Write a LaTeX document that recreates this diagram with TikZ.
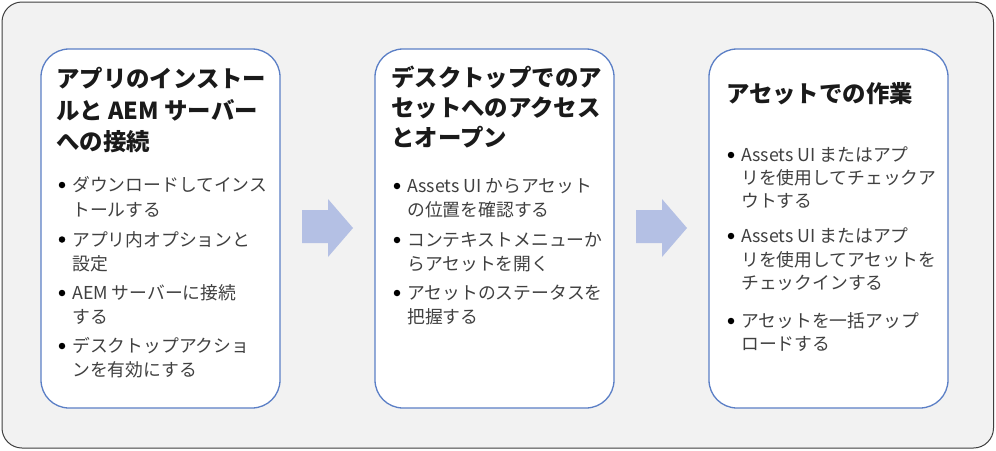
\documentclass[tikz,border=0pt]{standalone}
\usepackage{fontspec}
\setmainfont{Noto Sans CJK JP}
\definecolor{outerfill}{HTML}{F2F2F2}
\definecolor{outerline}{HTML}{3F3F3F}
\definecolor{boxline}{HTML}{5B7FC6}
\definecolor{arrowfill}{HTML}{B4C0E4}
\definecolor{titlecol}{HTML}{1A1A1A}
\definecolor{bodycol}{HTML}{404040}
\tikzset{
  x=1pt, y=-1pt,
  outerbox/.style={fill=outerfill, draw=outerline, line width=1pt, rounded corners=20pt},
  card/.style={fill=white, draw=boxline, line width=1.3pt, rounded corners=28pt},
  flowarrow/.style={fill=arrowfill, draw=none},
  ttl/.style={anchor=west, inner sep=0pt, text height=0.88em, text depth=0.12em,
    font=\fontsize{23.4}{30}\selectfont\bfseries, text=titlecol, yshift=-1pt},
  bdy/.style={anchor=west, inner sep=0pt, text height=0.88em, text depth=0.12em,
    font=\fontsize{17.8}{24}\selectfont, text=bodycol, yshift=-1pt},
  dot/.style={circle, fill=black, inner sep=0pt, minimum size=6.5pt, yshift=1.5pt},
}
\begin{document}
\begin{tikzpicture}
\useasboundingbox (0,0) rectangle (996,450);
\draw[outerbox] (2,2) rectangle (993.5,448);
% cards
\draw[card] (41,49) rectangle (280,408);
\draw[card] (375,49) rectangle (614,408);
\draw[card] (709,49) rectangle (948,408);
% arrows
\fill[flowarrow] (302,210) -- (328,210) -- (328,199) -- (353,228) -- (328,257) -- (328,243) -- (302,243) -- cycle;
\fill[flowarrow] (636,210) -- (662,210) -- (662,199) -- (687,228) -- (662,257) -- (662,243) -- (636,243) -- cycle;

% ---- Box 1
\node[ttl] (a-t1) at (56,83) {アプリのインストー};
\node[ttl] (a-t2) at (56,114.5) {ルと AEM サーバー};
\node[ttl] (a-t3) at (56,146) {への接続};
\node[dot] (a-d1) at (62,186.5) {};
\node[bdy] (a-l1) at (72,187) {ダウンロードしてインス};
\node[bdy] (a-l2) at (72,211.5) {トールする};
\node[dot] (a-d2) at (62,241) {};
\node[bdy] (a-l3) at (72,241.5) {アプリ内オプションと};
\node[bdy] (a-l4) at (72,266) {設定};
\node[dot] (a-d3) at (62,294.5) {};
\node[bdy] (a-l5) at (72,295) {AEM サーバーに接続};
\node[bdy] (a-l6) at (72,319) {する};
\node[dot] (a-d4) at (62,347.5) {};
\node[bdy] (a-l7) at (72,348) {デスクトップアクショ};
\node[bdy] (a-l8) at (72,372) {ンを有効にする};

% ---- Box 2
\node[ttl] (b-t1) at (391,82) {デスクトップでのア};
\node[ttl] (b-t2) at (391,112) {セットへのアクセス};
\node[ttl] (b-t3) at (391,142) {とオープン};
\node[dot] (b-d1) at (397,187.5) {};
\node[bdy] (b-l1) at (407,188) {Assets UI からアセット};
\node[bdy] (b-l2) at (407,212) {の位置を確認する};
\node[dot] (b-d2) at (397,241.5) {};
\node[bdy] (b-l3) at (407,242) {コンテキストメニューか};
\node[bdy] (b-l4) at (407,265.5) {らアセットを開く};
\node[dot] (b-d3) at (397,294.5) {};
\node[bdy] (b-l5) at (407,295) {アセットのステータスを};
\node[bdy] (b-l6) at (407,318.5) {把握する};

% ---- Box 3
\node[ttl] (c-t1) at (726,98) {アセットでの作業};
\node[dot] (c-d1) at (731,156.5) {};
\node[bdy] (c-l1) at (741,157) {Assets UI またはアプ};
\node[bdy] (c-l2) at (741,180) {リを使用してチェックア};
\node[bdy] (c-l3) at (741,203) {ウトする};
\node[dot] (c-d2) at (731,237.5) {};
\node[bdy] (c-l4) at (741,238) {Assets UI またはアプ};
\node[bdy] (c-l5) at (741,261.5) {リを使用してアセットを};
\node[bdy] (c-l6) at (741,285) {チェックインする};
\node[dot] (c-d3) at (731,322.5) {};
\node[bdy] (c-l7) at (741,323) {アセットを一括アップ};
\node[bdy] (c-l8) at (741,346) {ロードする};
\end{tikzpicture}
\end{document}
